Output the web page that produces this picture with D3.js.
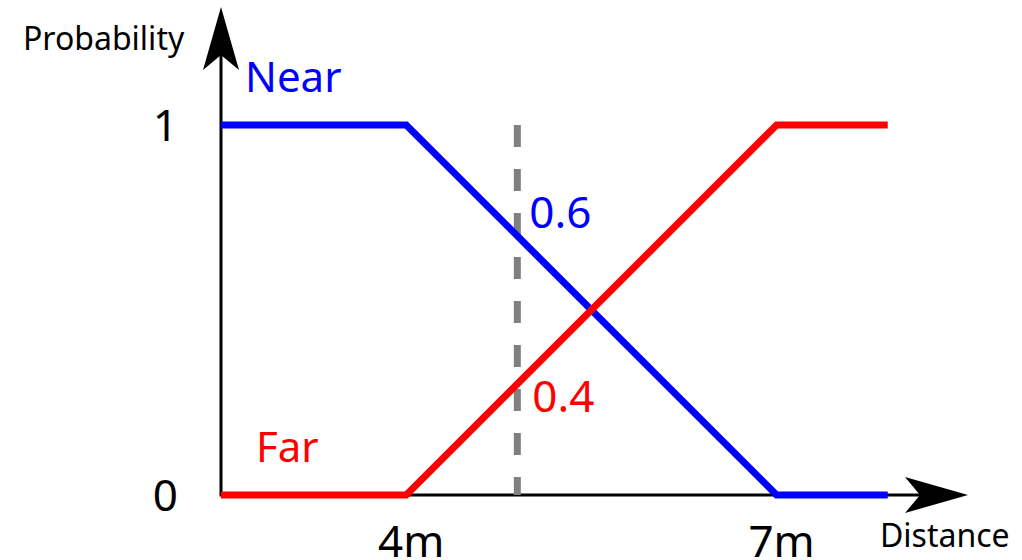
<!DOCTYPE html>
<html>
<head>
<meta charset="utf-8">
<script src="https://cdn.jsdelivr.net/npm/d3@7"></script>
<style>
  html, body { margin: 0; padding: 0; background: #fff; }
  svg { display: block; font-family: "Noto Sans", "Open Sans", sans-serif; }
</style>
</head>
<body>
<div id="chart"></div>
<script>
// distance in metres, probability 0..1
const distances = [2.5, 4, 7, 7.9];
const nearValues = [1, 1, 0, 0];
const farValues = [0, 0, 1, 1];
const measuredDistance = 4.9;
const nearLabel = '0.6';
const farLabel = '0.4';
const xTicks = [4, 7];
const xTickLabels = ['4m', '7m'];
const yTicks = [0, 1];
const yTickLabels = ['0', '1'];

const width = 1022;
const height = 560;

const svg = d3.select('#chart')
  .append('svg')
  .attr('width', width)
  .attr('height', height);

const x = d3.scaleLinear().domain([2.5, 8.55]).range([221, 968]);
const y = d3.scaleLinear().domain([0, 1.316]).range([495, 8]);

const defs = svg.append('defs');
defs.append('marker')
  .attr('id', 'arrow')
  .attr('markerUnits', 'userSpaceOnUse')
  .attr('viewBox', '0 -19 64 38')
  .attr('markerWidth', 64)
  .attr('markerHeight', 38)
  .attr('refX', 15)
  .attr('refY', 0)
  .attr('orient', 'auto')
  .append('path')
  .attr('d', 'M0,-18L63,0L0,18L15,0Z')
  .attr('fill', '#000');

const [x0, x1] = x.domain();
const [y0, y1] = y.domain();

// axes
svg.append('line')
  .attr('x1', x(x0)).attr('y1', y(y0))
  .attr('x2', x(x1) - 48).attr('y2', y(y0))
  .attr('stroke', '#000').attr('stroke-width', 3)
  .attr('marker-end', 'url(#arrow)');

svg.append('line')
  .attr('x1', x(x0)).attr('y1', y(y0) + 1.5)
  .attr('x2', x(x0)).attr('y2', y(y1) + 47)
  .attr('stroke', '#000').attr('stroke-width', 3)
  .attr('marker-end', 'url(#arrow)');

// tick labels
svg.selectAll('.ytick')
  .data(yTicks)
  .enter()
  .append('text')
  .attr('class', 'ytick')
  .attr('x', 178)
  .attr('y', d => y(d))
  .attr('dy', '0.36em')
  .attr('text-anchor', 'end')
  .attr('font-size', 44)
  .text((d, i) => yTickLabels[i]);

svg.selectAll('.xtick')
  .data(xTicks)
  .enter()
  .append('text')
  .attr('class', 'xtick')
  .attr('x', d => x(d) + 5)
  .attr('y', 557)
  .attr('text-anchor', 'middle')
  .attr('font-size', 44)
  .text((d, i) => xTickLabels[i]);

svg.append('text')
  .attr('x', 23).attr('y', 50)
  .attr('font-size', 32)
  .text('Probability');

svg.append('text')
  .attr('x', 880).attr('y', 547)
  .attr('font-size', 32)
  .text('Distance');

// measured distance
svg.append('line')
  .attr('x1', x(measuredDistance)).attr('y1', y(1))
  .attr('x2', x(measuredDistance)).attr('y2', y(0))
  .attr('stroke', '#808080')
  .attr('stroke-width', 7)
  .attr('stroke-dasharray', '22,22');

const line = d3.line()
  .x((d, i) => x(distances[i]))
  .y(d => y(d));

svg.append('path')
  .datum(nearValues)
  .attr('d', line)
  .attr('fill', 'none')
  .attr('stroke', '#0000ff')
  .attr('stroke-width', 7);

svg.append('path')
  .datum(farValues)
  .attr('d', line)
  .attr('fill', 'none')
  .attr('stroke', '#ff0000')
  .attr('stroke-width', 7);

svg.append('text')
  .attr('x', 245).attr('y', 92)
  .attr('font-size', 42)
  .attr('fill', '#0000ff')
  .text('Near');

svg.append('text')
  .attr('x', 256).attr('y', 462)
  .attr('font-size', 42)
  .attr('fill', '#ff0000')
  .text('Far');

svg.append('text')
  .attr('x', x(measuredDistance) + 12).attr('y', 228)
  .attr('font-size', 44)
  .attr('fill', '#0000ff')
  .text(nearLabel);

svg.append('text')
  .attr('x', x(measuredDistance) + 15).attr('y', 412)
  .attr('font-size', 44)
  .attr('fill', '#ff0000')
  .text(farLabel);
</script>
</body>
</html>
